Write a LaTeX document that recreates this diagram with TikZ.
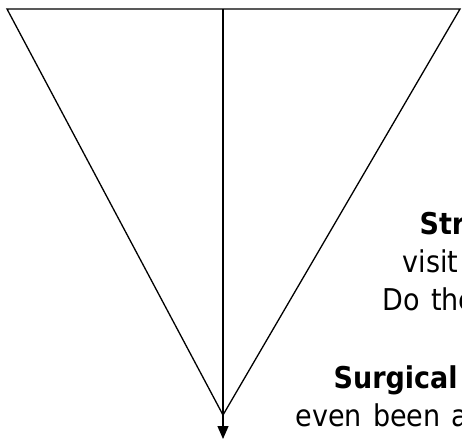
\documentclass[tikz,border=0pt]{standalone}
\usepackage{fontspec}
\setmainfont{DejaVu Sans Condensed}[WordSpace=1.3]
\usetikzlibrary{arrows.meta}
\tikzset{texto/.style={anchor=base west,inner sep=0pt,font=\fontsize{30}{36}\selectfont}}

\begin{document}
\begin{tikzpicture}[x=1pt,y=-1pt,>={Triangle[length=13pt,width=11pt]},line width=1.3pt]
  \useasboundingbox (0,0) rectangle (462,438);
  \clip (0,0) rectangle (462,438);
  \coordinate (TL) at (7,9);
  \coordinate (TR) at (460,9);
  \coordinate (M) at (223,9);
  \coordinate (V) at (223,415);
  \coordinate (tip) at (223,439);
  \draw (TL) -- (TR) -- (V) -- cycle;
  \draw[->] (M) -- (tip);
  \node[texto,font=\fontsize{30}{36}\selectfont\bfseries] (str) at (419,234) {Str};
  \node[texto] (visit) at (402,272) {visit};
  \node[texto] (dothe) at (382,310) {Do the};
  \node[texto,font=\fontsize{30}{36}\selectfont\bfseries] (surg) at (333,388) {Surgical};
  \node[texto] (even) at (295,426) {even been a};
\end{tikzpicture}
\end{document}
